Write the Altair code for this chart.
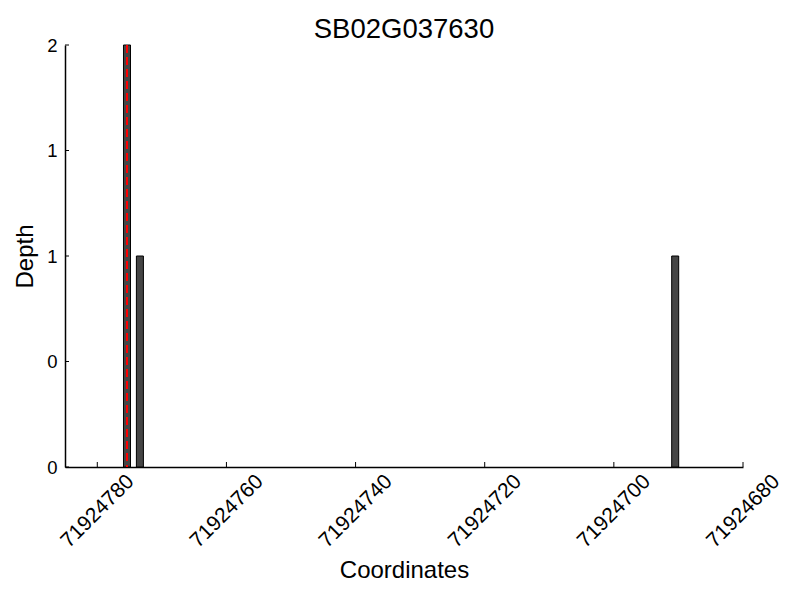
import altair as alt
import pandas as pd

title = "SB02G037630"
positions = [71924775.4, 71924773.4, 71924690.5]
depths = [2, 1, 1]
marker_pos = [71924775.4]
x_ticks = [71924780, 71924760, 71924740, 71924720, 71924700, 71924680]
y_ticks = [0, 0.5, 1, 1.5, 2]
x_domain = [71924680, 71924785]
y_domain = [0, 2]

W, H = 678, 422
FONT = "Liberation Sans"

bars_df = pd.DataFrame({"pos": positions, "depth": depths})
marker_df = pd.DataFrame({"pos": marker_pos})
xt_df = pd.DataFrame({"pos": x_ticks})
yt_df = pd.DataFrame({"d": y_ticks})

xscale = alt.Scale(domain=x_domain, reverse=True, nice=False, zero=False, padding=0)
yscale = alt.Scale(domain=y_domain, nice=False, padding=0)

xaxis = alt.Axis(
    title="Coordinates", values=x_ticks, format="d", labelAngle=315,
    labelAlign="center", labelBaseline="middle", labelFontSize=21, labelFont=FONT,
    labelColor="black", titleFontSize=24, titleFont=FONT, titleFontWeight="normal",
    titleColor="black", tickSize=0, labelPadding=44, labelOffset=0, titlePadding=7,
    domainColor="black", domainWidth=1.5, grid=False, labelOverlap=False,
    labelFlush=False,
)
yaxis = alt.Axis(
    title="Depth", values=y_ticks, labelExpr="floor(datum.value)",
    labelFontSize=18.5, labelFont=FONT, labelColor="black", titleFontSize=24,
    titleFont=FONT, titleFontWeight="normal", titleColor="black", tickSize=0,
    labelPadding=8, titlePadding=9, domainColor="black", domainWidth=1.5,
    grid=False, labelOverlap=False, labelFlush=False,
)

bars = alt.Chart(bars_df).mark_bar(
    size=7, color="#454545", stroke="black", strokeWidth=1
).encode(
    x=alt.X("pos:Q", scale=xscale, axis=xaxis),
    y=alt.Y("depth:Q", scale=yscale, axis=yaxis),
)

marker = alt.Chart(marker_df).mark_rule(
    color="red", strokeDash=[8, 4], strokeWidth=2
).encode(
    x=alt.X("pos:Q", scale=xscale),
    y=alt.value(0), y2=alt.value(H),
)

xt = alt.Chart(xt_df).mark_rule(color="black", strokeWidth=1).encode(
    x=alt.X("pos:Q", scale=xscale),
    y=alt.value(H), y2=alt.value(H - 5),
)
yt = alt.Chart(yt_df).mark_rule(color="black", strokeWidth=1).encode(
    y=alt.Y("d:Q", scale=yscale),
    x=alt.value(0), x2=alt.value(4),
)

chart = alt.layer(bars, marker, xt, yt).properties(
    width=W, height=H,
    background="white",
    title=alt.Title(title, fontSize=27.5, font=FONT, fontWeight="normal", color="black", offset=-7),
    autosize=alt.AutoSizeParams(type="none"),
    padding={"left": 57, "top": 37, "right": 49, "bottom": 125},
).configure_view(stroke=None, strokeWidth=0)

chart.save("out.html", embed_options={"renderer": "svg", "actions": False})
